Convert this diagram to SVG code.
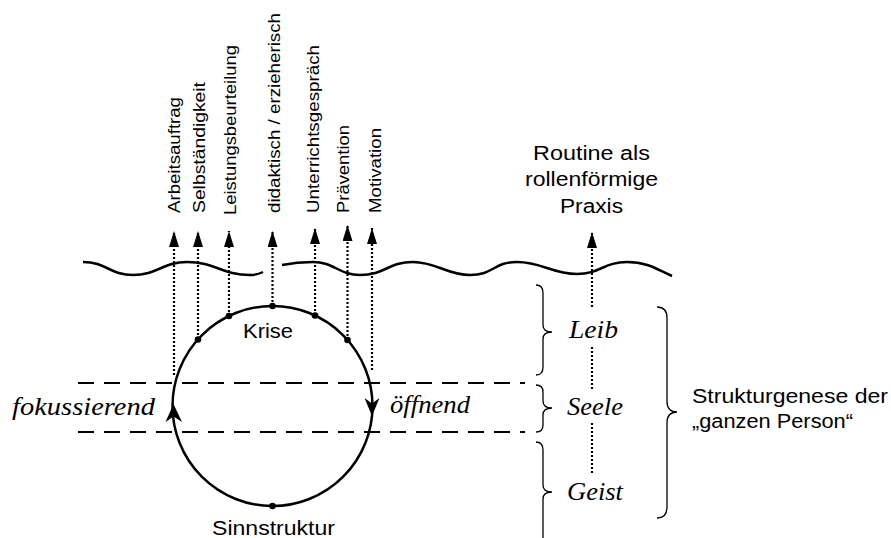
<svg xmlns="http://www.w3.org/2000/svg" width="891" height="538" viewBox="0 0 891 538">
<style>
.sans{font-family:"Liberation Sans",Arial,sans-serif;fill:#000}
.rot{font-size:16.5px}
.lbl{font-size:20px}
.it{font-family:"Liberation Serif","Times New Roman",serif;font-style:italic;font-size:26px;fill:#000}
.dot{fill:none;stroke:#000;stroke-width:2.2;stroke-dasharray:2 2}
.dash{fill:none;stroke:#000;stroke-width:2.2;stroke-dasharray:16 10}
.solid{fill:none;stroke:#000;stroke-width:2.5}
.brace{fill:none;stroke:#000;stroke-width:1.3}
</style>
<defs>
<marker id="ah" viewBox="0 0 16 10" refX="16" refY="5" markerWidth="16" markerHeight="10" markerUnits="userSpaceOnUse" orient="auto">
<path d="M0,0 L16,5 L0,10 z" fill="#000"/>
</marker>
</defs>
<rect width="891" height="538" fill="#fff"/>

<g id="wave">
<path class="solid" d="M83,262 C106,262 110,275 133,275 C157,275 163,262 187,262 C215,262 222,275 250,275 C255,275 259,274 263,272"/>
<path class="solid" d="M282,265 C292,263 300,262 313,262 C334,262 339,275 360,275 C385,275 388,262 413,262 C436,262 447,275 470,275 C494,275 493,262 517,262 C542,262 552,274 577,274 C600,274 604,262 627,262 C648,262 658,270 672,276"/>
</g>

<g id="levels">
<line class="dash" x1="78" y1="383" x2="525" y2="383"/>
<line class="dash" x1="78" y1="432" x2="525" y2="432"/>
</g>

<g id="connectors">
<line class="dot" x1="174" y1="375" x2="174" y2="231" marker-end="url(#ah)"/>
<line class="dot" x1="198" y1="339" x2="198" y2="231" marker-end="url(#ah)"/>
<line class="dot" x1="229" y1="316" x2="229" y2="231" marker-end="url(#ah)"/>
<line class="dot" x1="272.5" y1="306" x2="272.5" y2="231" marker-end="url(#ah)"/>
<line class="dot" x1="315" y1="315" x2="315" y2="228" marker-end="url(#ah)"/>
<line class="dot" x1="347.5" y1="340" x2="347.5" y2="225" marker-end="url(#ah)"/>
<line class="dot" x1="372" y1="370" x2="372" y2="228" marker-end="url(#ah)"/>
<line class="dot" x1="592" y1="307" x2="592" y2="232" marker-end="url(#ah)"/>
<path class="dot" d="M592,347 L592,390 M592,423 L592,473"/>
</g>

<g id="cycle">
<circle class="solid" cx="272.5" cy="406" r="100"/>
<path d="M173.5,404 L182,422 L173.5,416.5 L165.5,422 Z" fill="#000"/>
<path d="M372,416 L379.5,398 L372,403.5 L364.5,398 Z" fill="#000"/>
<circle cx="198" cy="339.5" r="3.3"/>
<circle cx="229" cy="316" r="3.3"/>
<circle cx="272.5" cy="306" r="3.3"/>
<circle cx="315" cy="315.5" r="3.3"/>
<circle cx="347.5" cy="340" r="3.3"/>
<circle cx="272.5" cy="506" r="3.3"/>
</g>

<g id="top-labels" class="sans rot">
<text transform="translate(180,213) rotate(-90)" textLength="116" lengthAdjust="spacingAndGlyphs">Arbeitsauftrag</text>
<text transform="translate(205,213) rotate(-90)" textLength="131" lengthAdjust="spacingAndGlyphs">Selbständigkeit</text>
<text transform="translate(236,215) rotate(-90)" textLength="170" lengthAdjust="spacingAndGlyphs">Leistungsbeurteilung</text>
<text transform="translate(280,213) rotate(-90)" textLength="200" lengthAdjust="spacingAndGlyphs">didaktisch / erzieherisch</text>
<text transform="translate(318.5,213) rotate(-90)" textLength="168" lengthAdjust="spacingAndGlyphs">Unterrichtsgespräch</text>
<text transform="translate(349,213) rotate(-90)" textLength="88" lengthAdjust="spacingAndGlyphs">Prävention</text>
<text transform="translate(380.5,213) rotate(-90)" textLength="85" lengthAdjust="spacingAndGlyphs">Motivation</text>
</g>

<g id="routine" class="sans lbl">
<text x="533" y="160" textLength="117" lengthAdjust="spacingAndGlyphs">Routine als</text>
<text x="525" y="186" textLength="133" lengthAdjust="spacingAndGlyphs">rollenförmige</text>
<text x="560" y="213" textLength="63" lengthAdjust="spacingAndGlyphs">Praxis</text>
</g>

<g id="krise"><text class="sans lbl" x="243" y="338" textLength="50" lengthAdjust="spacingAndGlyphs">Krise</text></g>
<g id="sinnstruktur"><text class="sans lbl" x="212" y="535" textLength="123" lengthAdjust="spacingAndGlyphs">Sinnstruktur</text></g>

<g id="fokussierend"><text class="it" x="12" y="415" textLength="143" lengthAdjust="spacingAndGlyphs">fokussierend</text></g>
<g id="oeffnend"><text class="it" x="390" y="413" textLength="80" lengthAdjust="spacingAndGlyphs">öffnend</text></g>

<g id="leib">
<path class="brace" d="M536,285 Q543,285 543,293 L543,325 Q543,332 552,332 Q543,332 543,339 L543,367 Q543,375 536,375"/>
<text class="it" x="569" y="338" textLength="49" lengthAdjust="spacingAndGlyphs">Leib</text>
</g>
<g id="seele">
<path class="brace" d="M536,385 Q543,385 543,392 L543,401 Q543,408 552,408 Q543,408 543,415 L543,425 Q543,432 536,432"/>
<text class="it" x="567" y="415" textLength="56" lengthAdjust="spacingAndGlyphs">Seele</text>
</g>
<g id="geist">
<path class="brace" d="M536,442 Q543,442 543,450 L543,485 Q543,492 552,492 Q543,492 543,499 L543,545"/>
<text class="it" x="567" y="500" textLength="56" lengthAdjust="spacingAndGlyphs">Geist</text>
</g>

<g id="strukturgenese">
<path class="brace" d="M657,307 Q667,307 667,318 L667,401 Q667,412 677,412 Q667,412 667,423 L667,507 Q667,518 657,518"/>
<text class="sans lbl" x="692" y="403" textLength="196" lengthAdjust="spacingAndGlyphs">Strukturgenese der</text>
<text class="sans lbl" x="692" y="428" textLength="161" lengthAdjust="spacingAndGlyphs">„ganzen Person“</text>
</g>
</svg>
